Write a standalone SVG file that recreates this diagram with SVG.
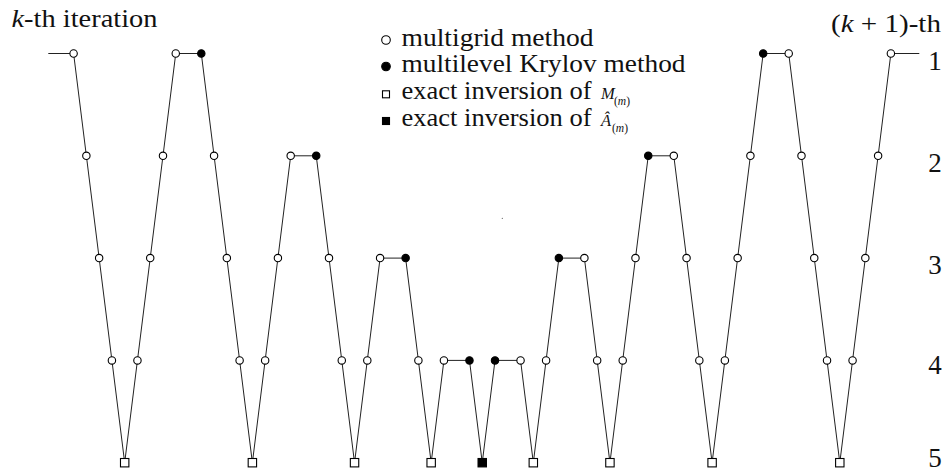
<svg xmlns="http://www.w3.org/2000/svg" width="946" height="472" viewBox="0 0 946 472">
<style>
.t{font-family:"Liberation Serif","DejaVu Serif",serif;fill:#111}
.lab{font-size:25px}
.num{font-size:27px;text-anchor:middle}
.leg{font-size:25px}
.o{fill:#fff;stroke:#000;stroke-width:1.1}
.f{fill:#000;stroke:#000;stroke-width:1.1}
.sq{fill:#fff;stroke:#000;stroke-width:1.1}
.sf{fill:#000;stroke:#000;stroke-width:1.1}
.e{fill:none;stroke:#222;stroke-width:1}
</style>
<defs>
<circle id="co" class="o" r="3.7"/>
<circle id="cf" class="f" r="3.7"/>
<rect id="rs" class="sq" x="-4.2" y="-4.2" width="8.4" height="8.4"/>
<rect id="rf" class="sf" x="-4.2" y="-4.2" width="8.4" height="8.4"/>
</defs>

<text class="t lab" x="11.5" y="27" textLength="146" lengthAdjust="spacingAndGlyphs"><tspan font-style="italic">k</tspan>-th iteration</text>
<text class="t lab" x="831" y="31.5" textLength="110" lengthAdjust="spacingAndGlyphs">(<tspan font-style="italic">k</tspan> + 1)-th</text>

<g id="levels">
<text class="t num" x="935" y="69.5">1</text>
<text class="t num" x="935" y="172">2</text>
<text class="t num" x="935" y="273.5">3</text>
<text class="t num" x="935" y="374">4</text>
<text class="t num" x="935" y="467">5</text>
</g>

<g id="legend">
<circle class="o" cx="386" cy="40" r="4.3" stroke-width="1.2"/>
<text class="t leg" x="401.5" y="46" textLength="192" lengthAdjust="spacingAndGlyphs">multigrid method</text>
<circle class="f" cx="386" cy="66.5" r="4.3"/>
<text class="t leg" x="401.5" y="72.2" textLength="284" lengthAdjust="spacingAndGlyphs">multilevel Krylov method</text>
<rect class="sq" x="382.5" y="90.8" width="7" height="7"/>
<text class="t leg" x="401.5" y="99" textLength="190" lengthAdjust="spacingAndGlyphs">exact inversion of</text>
<text class="t" x="601" y="99" font-size="16.5" font-style="italic">M</text>
<text class="t" x="614" y="104.5" font-size="11.5">(<tspan font-style="italic">m</tspan>)</text>
<rect class="sf" x="382.5" y="117.5" width="7" height="7"/>
<text class="t leg" x="401.5" y="125.7" textLength="190" lengthAdjust="spacingAndGlyphs">exact inversion of</text>
<text class="t" x="601" y="126" font-size="16.5" font-style="italic">Â</text>
<text class="t" x="612" y="131.5" font-size="11.5">(<tspan font-style="italic">m</tspan>)</text>
</g>

<g id="connectors">
<polyline class="e" points="48.3,53.5 73.6,53.5 86.37,155.8 99.14,258.1 111.91,360.4 124.68,462.7 137.45,360.4 150.22,258.1 162.99,155.8 175.76,53.5 201.3,53.5 214.07,155.8 226.84,258.1 239.61,360.4 252.38,462.7 265.15,360.4 277.92,258.1 290.69,155.8 316.23,155.8 329,258.1 341.77,360.4 354.54,462.7 367.31,360.4 380.08,258.1 405.62,258.1 418.39,360.4 431.16,462.7 443.93,360.4 469.47,360.4 482.24,462.7 495.01,360.4 520.55,360.4 533.32,462.7 546.09,360.4 558.86,258.1 584.4,258.1 597.17,360.4 609.94,462.7 622.71,360.4 635.48,258.1 648.25,155.8 673.79,155.8 686.56,258.1 699.33,360.4 712.1,462.7 724.87,360.4 737.64,258.1 750.41,155.8 763.18,53.5 788.72,53.5 801.49,155.8 814.26,258.1 827.03,360.4 839.8,462.7 852.57,360.4 865.34,258.1 878.11,155.8 890.88,53.5 919.3,53.5"/>
</g>

<g id="nodes">
<g id="n00"><use href="#co" x="73.6" y="53.5"/></g>
<g id="n01"><use href="#co" x="86.37" y="155.8"/></g>
<g id="n02"><use href="#co" x="99.14" y="258.1"/></g>
<g id="n03"><use href="#co" x="111.91" y="360.4"/></g>
<g id="n04"><use href="#rs" x="124.68" y="462.7"/></g>
<g id="n05"><use href="#co" x="137.45" y="360.4"/></g>
<g id="n06"><use href="#co" x="150.22" y="258.1"/></g>
<g id="n07"><use href="#co" x="162.99" y="155.8"/></g>
<g id="n08"><use href="#co" x="175.76" y="53.5"/></g>
<g id="n10"><use href="#cf" x="201.3" y="53.5"/></g>
<g id="n11"><use href="#co" x="214.07" y="155.8"/></g>
<g id="n12"><use href="#co" x="226.84" y="258.1"/></g>
<g id="n13"><use href="#co" x="239.61" y="360.4"/></g>
<g id="n14"><use href="#rs" x="252.38" y="462.7"/></g>
<g id="n15"><use href="#co" x="265.15" y="360.4"/></g>
<g id="n16"><use href="#co" x="277.92" y="258.1"/></g>
<g id="n17"><use href="#co" x="290.69" y="155.8"/></g>
<g id="n19"><use href="#cf" x="316.23" y="155.8"/></g>
<g id="n20"><use href="#co" x="329" y="258.1"/></g>
<g id="n21"><use href="#co" x="341.77" y="360.4"/></g>
<g id="n22"><use href="#rs" x="354.54" y="462.7"/></g>
<g id="n23"><use href="#co" x="367.31" y="360.4"/></g>
<g id="n24"><use href="#co" x="380.08" y="258.1"/></g>
<g id="n26"><use href="#cf" x="405.62" y="258.1"/></g>
<g id="n27"><use href="#co" x="418.39" y="360.4"/></g>
<g id="n28"><use href="#rs" x="431.16" y="462.7"/></g>
<g id="n29"><use href="#co" x="443.93" y="360.4"/></g>
<g id="n31"><use href="#cf" x="469.47" y="360.4"/></g>
<g id="n32"><use href="#rf" x="482.24" y="462.7"/></g>
<g id="n33"><use href="#cf" x="495.01" y="360.4"/></g>
<g id="n35"><use href="#co" x="520.55" y="360.4"/></g>
<g id="n36"><use href="#rs" x="533.32" y="462.7"/></g>
<g id="n37"><use href="#co" x="546.09" y="360.4"/></g>
<g id="n38"><use href="#cf" x="558.86" y="258.1"/></g>
<g id="n40"><use href="#co" x="584.4" y="258.1"/></g>
<g id="n41"><use href="#co" x="597.17" y="360.4"/></g>
<g id="n42"><use href="#rs" x="609.94" y="462.7"/></g>
<g id="n43"><use href="#co" x="622.71" y="360.4"/></g>
<g id="n44"><use href="#co" x="635.48" y="258.1"/></g>
<g id="n45"><use href="#cf" x="648.25" y="155.8"/></g>
<g id="n47"><use href="#co" x="673.79" y="155.8"/></g>
<g id="n48"><use href="#co" x="686.56" y="258.1"/></g>
<g id="n49"><use href="#co" x="699.33" y="360.4"/></g>
<g id="n50"><use href="#rs" x="712.1" y="462.7"/></g>
<g id="n51"><use href="#co" x="724.87" y="360.4"/></g>
<g id="n52"><use href="#co" x="737.64" y="258.1"/></g>
<g id="n53"><use href="#co" x="750.41" y="155.8"/></g>
<g id="n54"><use href="#cf" x="763.18" y="53.5"/></g>
<g id="n56"><use href="#co" x="788.72" y="53.5"/></g>
<g id="n57"><use href="#co" x="801.49" y="155.8"/></g>
<g id="n58"><use href="#co" x="814.26" y="258.1"/></g>
<g id="n59"><use href="#co" x="827.03" y="360.4"/></g>
<g id="n60"><use href="#rs" x="839.8" y="462.7"/></g>
<g id="n61"><use href="#co" x="852.57" y="360.4"/></g>
<g id="n62"><use href="#co" x="865.34" y="258.1"/></g>
<g id="n63"><use href="#co" x="878.11" y="155.8"/></g>
<g id="n64"><use href="#co" x="890.88" y="53.5"/></g>
</g>

<circle cx="502.3" cy="218.3" r="0.6" fill="#555"/>
</svg>
